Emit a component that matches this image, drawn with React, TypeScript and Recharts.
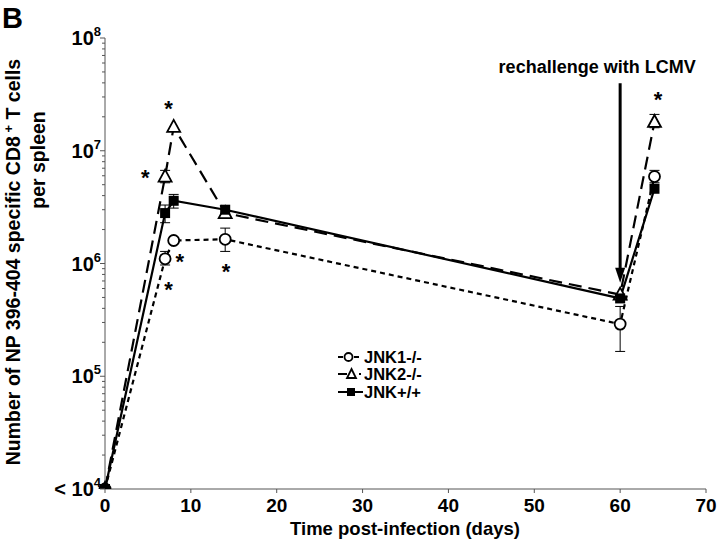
import React from 'react';
import { LineChart, Line, XAxis, YAxis, ErrorBar, ReferenceLine, ReferenceDot } from 'recharts';

// time points (days post-infection)
const days = [0, 7, 8, 14, 60, 64];

// NP 396-404 specific CD8+ T cells per spleen
const jnk1 = [1e4, 1.1e6, 1.6e6, 1.64e6, 2.9e5, 5.9e6];
const jnk2 = [1e4, 5.9e6, 1.63e7, 2.8e6, 5.3e5, 1.8e7];
const jnkWt = [1e4, 2.8e6, 3.6e6, 3.0e6, 4.9e5, 4.6e6];

// error bar bounds [low, high]; null where the bar is hidden by the marker
const jnk1Err: ([number, number] | null)[] = [null, [9.7e5, 1.28e6], null, [1.28e6, 2.06e6], [1.66e5, 4.16e5], [5.2e6, 6.7e6]];
const jnk2Err: ([number, number] | null)[] = [null, [5.2e6, 6.7e6], null, null, null, [1.6e7, 2.1e7]];
const jnkWtErr: ([number, number] | null)[] = [null, [2.3e6, 3.3e6], [3.1e6, 4.1e6], null, null, null];

// significance asterisks
const starDays = [7.4, 4.7, 8.7, 7.4, 14.1, 64.4];
const starValues = [2.6e7, 6.4e6, 1.15e6, 6.4e5, 9.4e5, 3.1e7];

// rechallenge arrow
const arrowDay = 60;
const arrowFrom = 3.97e7;
const arrowTo = 6.75e5;

const xTicks = [0, 10, 20, 30, 40, 50, 60, 70];
const yMajor = [1e4, 1e5, 1e6, 1e7, 1e8];
const yBase = ['< 10', '10', '10', '10', '10'];
const yExp = ['4', '5', '6', '7', '8'];
const yMinor = yMajor.slice(0, -1).flatMap(m => [2, 3, 4, 5, 6, 7, 8, 9].map(k => k * m));
const yTicks = [...yMajor, ...yMinor].sort((a, b) => a - b);

const FONT = '"Liberation Sans", Arial, sans-serif';
const AXIS = '#555';

const toDelta = (v: number, e: [number, number] | null) => (e ? [v - e[0], e[1] - v] : undefined);

const data = days.map((d, i) => ({
  day: d,
  jnk1: jnk1[i],
  jnk2: jnk2[i],
  jnkWt: jnkWt[i],
  jnk1Err: toDelta(jnk1[i], jnk1Err[i]),
  jnk2Err: toDelta(jnk2[i], jnk2Err[i]),
  jnkWtErr: toDelta(jnkWt[i], jnkWtErr[i])
}));

function CircleDot(props: any) {
  const { cx, cy, index } = props;
  return <circle key={`c${index}`} cx={cx} cy={cy} r={5.5} fill="#fff" stroke="#000" strokeWidth={1.8} />;
}

function TriangleDot(props: any) {
  const { cx, cy, index } = props;
  return (
    <path
      key={`t${index}`}
      d={`M${cx},${cy - 7} L${cx + 6.5},${cy + 5} L${cx - 6.5},${cy + 5} Z`}
      fill="#fff"
      stroke="#000"
      strokeWidth={1.8}
    />
  );
}

function SquareDot(props: any) {
  const { cx, cy, index } = props;
  return <rect key={`s${index}`} x={cx - 5} y={cy - 5} width={10} height={10} fill="#000" />;
}

function XTick(props: any) {
  const { x, y, payload } = props;
  return (
    <g>
      <line x1={x} x2={x} y1={y} y2={y + 4} stroke={AXIS} />
      <text x={x} y={y + 23} textAnchor="middle" fontFamily={FONT} fontWeight="bold" fontSize={19} fill="#000">
        {payload.value}
      </text>
    </g>
  );
}

function YTick(props: any) {
  const { x, y, payload } = props;
  const i = yMajor.indexOf(payload.value);
  if (i < 0) return <line x1={x - 3} x2={x} y1={y} y2={y} stroke={AXIS} />;
  return (
    <g>
      <line x1={x - 5} x2={x} y1={y} y2={y} stroke={AXIS} />
      <text x={x - 4} y={y + 7} textAnchor="end" fontFamily={FONT} fontWeight="bold" fontSize={20} fill="#000">
        {yBase[i]}
        <tspan dy={-9} fontSize={13}>{yExp[i]}</tspan>
      </text>
    </g>
  );
}

function Star(props: any) {
  const { cx, cy } = props;
  return (
    <text x={cx} y={cy + 12} textAnchor="middle" fontFamily={FONT} fontWeight="bold" fontSize={22} fill="#000">
      *
    </text>
  );
}

function Arrow(props: any) {
  const { x1, y1, x2, y2 } = props;
  return (
    <g>
      <text x={x1 - 23} y={y1 - 10} textAnchor="middle" fontFamily={FONT} fontWeight="bold" fontSize={18} fill="#000">
        rechallenge with LCMV
      </text>
      <line x1={x1} y1={y1} x2={x2} y2={y2 - 12} stroke="#000" strokeWidth={3} />
      <path d={`M${x2},${y2} L${x2 - 5},${y2 - 15} L${x2 + 5},${y2 - 15} Z`} fill="#000" />
    </g>
  );
}

function Overlay() {
  const t = { fontFamily: FONT, fontWeight: 'bold' as const, fill: '#000' };
  return (
    <svg width={720} height={546} style={{ position: 'absolute', left: 0, top: 0, pointerEvents: 'none' }}>
      <text x={2} y={28} fontSize={29} {...t}>B</text>
      <text x={20} y={262} fontSize={19.5} textAnchor="middle" transform="rotate(-90 20 262)" {...t}>
        Number of NP 396-404 specific CD8<tspan dy={-7} fontSize={13}> +</tspan>
        <tspan dy={7}> T cells</tspan>
      </text>
      <text x={45} y={160} fontSize={19.5} textAnchor="middle" transform="rotate(-90 45 160)" {...t}>
        per spleen
      </text>
      <text x={405} y={535} fontSize={18.5} textAnchor="middle" {...t}>Time post-infection (days)</text>

      <g stroke="#000" strokeWidth={2}>
        <line x1={338} x2={343} y1={357} y2={357} />
        <line x1={354} x2={359} y1={357} y2={357} />
        <line x1={338} x2={347} y1={374} y2={374} />
        <line x1={359} x2={361} y1={374} y2={374} />
        <line x1={338} x2={363} y1={392} y2={392} />
      </g>
      <circle cx={348.5} cy={357} r={4} fill="#fff" stroke="#000" strokeWidth={1.8} />
      <path d="M351.5,369 L356,378 L347,378 Z" fill="#fff" stroke="#000" strokeWidth={1.8} />
      <rect x={347} y={388} width={8} height={8} fill="#000" />
      <text x={364} y={363} fontSize={16.5} {...t}>JNK1-/-</text>
      <text x={364} y={380} fontSize={16.5} {...t}>JNK2-/-</text>
      <text x={364} y={398} fontSize={16.5} {...t}>JNK+/+</text>
    </svg>
  );
}

export default function App() {
  return (
    <div style={{ position: 'absolute', left: 0, top: 0, width: 720, height: 546, background: '#fff' }}>
      <LineChart width={720} height={546} data={data} margin={{ top: 38, right: 14, bottom: 0, left: 45 }}>
        <XAxis
          dataKey="day"
          type="number"
          domain={[0, 70]}
          ticks={xTicks}
          interval={0}
          height={57}
          tickSize={0}
          tickMargin={0}
          tick={<XTick />}
          axisLine={{ stroke: AXIS }}
          tickLine={false}
        />
        <YAxis
          type="number"
          scale="log"
          domain={[1e4, 1e8]}
          allowDataOverflow
          ticks={yTicks}
          interval={0}
          width={60}
          tickSize={0}
          tickMargin={0}
          tick={<YTick />}
          axisLine={{ stroke: AXIS }}
          tickLine={false}
        />
        <Line
          dataKey="jnk1"
          stroke="#000"
          strokeWidth={2.2}
          strokeDasharray="5 4"
          dot={CircleDot}
          isAnimationActive={false}
        >
          <ErrorBar dataKey="jnk1Err" width={5} stroke="#000" strokeWidth={1} direction="y" />
        </Line>
        <Line
          dataKey="jnk2"
          stroke="#000"
          strokeWidth={2.2}
          strokeDasharray="13 7"
          dot={TriangleDot}
          isAnimationActive={false}
        >
          <ErrorBar dataKey="jnk2Err" width={5} stroke="#000" strokeWidth={1} direction="y" />
        </Line>
        <Line dataKey="jnkWt" stroke="#000" strokeWidth={2.2} dot={SquareDot} isAnimationActive={false}>
          <ErrorBar dataKey="jnkWtErr" width={5} stroke="#000" strokeWidth={1} direction="y" />
        </Line>
        <ReferenceLine
          segment={[{ x: arrowDay, y: arrowFrom }, { x: arrowDay, y: arrowTo }]}
          shape={Arrow}
          ifOverflow="visible"
        />
        {starDays.map((d, i) => (
          <ReferenceDot key={i} x={d} y={starValues[i]} r={0} shape={Star} ifOverflow="visible" />
        ))}
      </LineChart>
      <Overlay />
    </div>
  );
}
